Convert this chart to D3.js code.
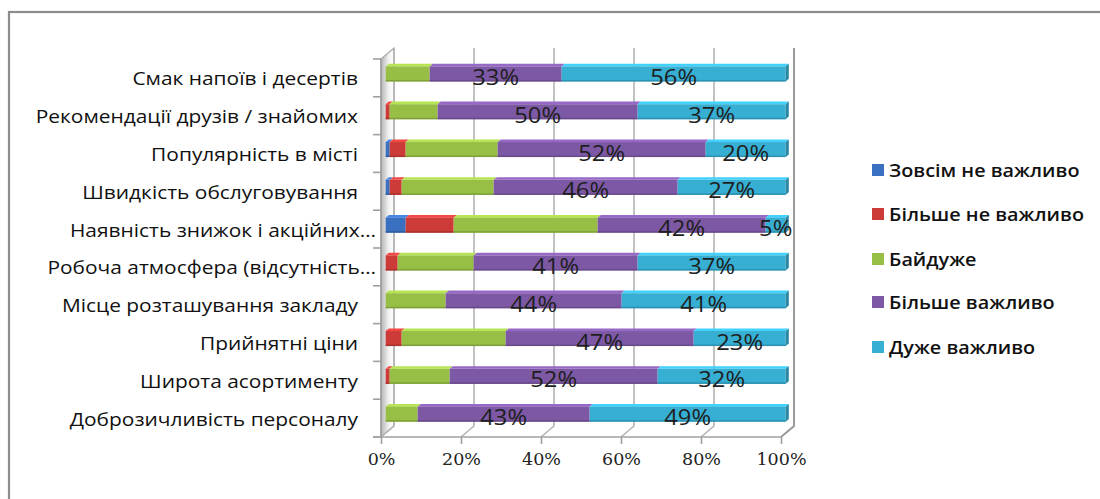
<!DOCTYPE html>
<html>
<head>
<meta charset="utf-8">
<script src="https://cdn.jsdelivr.net/npm/d3@7"></script>
<style>
  html, body { margin: 0; padding: 0; background: #fff; }
  svg { display: block; }
</style>
</head>
<body>
<svg id="chart" width="1100" height="499"></svg>
<script>
// Survey: importance of café selection factors (shares of respondents, %)
const categories = [
  "Смак напоїв і десертів",
  "Рекомендації друзів / знайомих",
  "Популярність в місті",
  "Швидкість обслуговування",
  "Наявність знижок і акційних…",
  "Робоча атмосфера (відсутність…",
  "Місце розташування закладу",
  "Прийнятні ціни",
  "Широта асортименту",
  "Доброзичливість персоналу"
];
const truncated = ["Наявність знижок і акційних…", "Робоча атмосфера (відсутність…"];

const seriesNames = ["Зовсім не важливо", "Більше не важливо", "Байдуже", "Більше важливо", "Дуже важливо"];
const notImportant     = [0, 0, 1, 1, 5, 0, 0, 0, 0, 0];
const ratherNot        = [0, 1, 4, 3, 12, 3, 0, 4, 1, 0];
const indifferent      = [11, 12, 23, 23, 36, 19, 15, 26, 15, 8];
const ratherImportant  = [33, 50, 52, 46, 42, 41, 44, 47, 52, 43];
const veryImportant    = [56, 37, 20, 27, 5, 37, 41, 23, 32, 49];
const seriesColors = ["#3a70c0", "#cc3b38", "#98bf45", "#7d58a5", "#36afd3"];
const labelledSeries = [3, 4];
const xTicks = [0, 20, 40, 60, 80, 100];

const seriesValues = [notImportant, ratherNot, indifferent, ratherImportant, veryImportant];

const svg = d3.select("#chart");

// widen a text element horizontally by a factor, keeping its anchor
function stretch(sel, k) {
  sel.each(function () {
    const w = this.getComputedTextLength();
    d3.select(this).attr("textLength", w * k).attr("lengthAdjust", "spacingAndGlyphs");
  });
}

// outer frame
svg.append("rect")
  .attr("x", 9).attr("y", 12).attr("width", 1100).attr("height", 500)
  .attr("fill", "none").attr("stroke", "#8c8c8c").attr("stroke-width", 2.2);

// scales on the front plane
const x = d3.scaleLinear().domain([0, 100]).range([381, 781]);
const y = d3.scaleBand().domain(categories).range([59, 437]).paddingInner(0).paddingOuter(0);

// depth projection for the 3D box
const DX = 13, DY = -11;
const floorY = y.range()[1];
const topY = 48;

const defs = svg.append("defs");
const wallGrad = defs.append("linearGradient").attr("id", "wallGrad")
  .attr("x1", "0").attr("x2", "1").attr("y1", "0").attr("y2", "0");
wallGrad.append("stop").attr("offset", "0").attr("stop-color", "#b5b5b5");
wallGrad.append("stop").attr("offset", "0.6").attr("stop-color", "#f2f2f2");
wallGrad.append("stop").attr("offset", "1").attr("stop-color", "#ffffff");

// left side wall
svg.append("path")
  .attr("d", d3.line()([
    [x(0), y.range()[0]], [x(0) + DX, topY], [x(0) + DX, floorY + DY], [x(0), floorY]
  ]) + "Z")
  .attr("fill", "url(#wallGrad)").attr("stroke", "#a8a8a8").attr("stroke-width", 1.2);

// gridlines: floor slant then back wall vertical
const grid = svg.append("g");
xTicks.forEach(t => {
  grid.append("path")
    .attr("d", d3.line()([[x(t), floorY], [x(t) + DX, floorY + DY], [x(t) + DX, topY]]))
    .attr("fill", "none")
    .attr("stroke", t === 100 ? "#9a9a9a" : "#b4b4b4")
    .attr("stroke-width", t === 100 ? 2 : 1.6);
});

// front axes
const axisColor = "#a0a0a0";
svg.append("line")
  .attr("x1", x(0)).attr("x2", x(0)).attr("y1", y.range()[0]).attr("y2", floorY)
  .attr("stroke", axisColor).attr("stroke-width", 1.6);
svg.append("line")
  .attr("x1", x(0) - 8).attr("x2", x(100)).attr("y1", floorY).attr("y2", floorY)
  .attr("stroke", axisColor).attr("stroke-width", 1.6);
const bounds = categories.map(c => y(c)).concat([floorY]);
bounds.forEach(b => {
  svg.append("line")
    .attr("x1", x(0) - 8).attr("x2", x(0)).attr("y1", b).attr("y2", b)
    .attr("stroke", axisColor).attr("stroke-width", 1.6);
});

// bottom axis (ticks and labels)
const xAxis = d3.axisBottom(x).tickValues(xTicks).tickFormat(d => d + "%").tickSize(7).tickPadding(9);
const xg = svg.append("g").attr("transform", `translate(0,${floorY})`).call(xAxis);
xg.select(".domain").remove();
xg.selectAll(".tick line").attr("stroke", axisColor).attr("stroke-width", 1.6);
xg.selectAll(".tick text")
  .attr("font-family", "DejaVu Serif").attr("font-size", 17.5).attr("fill", "#222");

// category labels
const catG = svg.append("g");
categories.forEach(c => {
  const isTrunc = truncated.includes(c);
  catG.append("text")
    .attr("x", isTrunc ? 376 : 358)
    .attr("y", y(c) + y.bandwidth() / 2)
    .attr("text-anchor", "end")
    .attr("dominant-baseline", "central")
    .attr("font-family", "Open Sans")
    .attr("font-size", 18.5)
    .attr("fill", "#111")
    .text(c);
});
stretch(catG.selectAll("text"), 1.13);

// stacked 3D bars
const barH = 15;
const d0 = 0.36, d1 = 0.6;
const stacked = categories.map((c, i) => {
  let acc = 0;
  return seriesValues.map((vals, s) => {
    const seg = { cat: c, series: s, x0: acc, x1: acc + vals[i], v: vals[i] };
    acc += vals[i];
    return seg;
  });
});

const barsG = svg.append("g");
stacked.forEach(row => {
  const c = row[0].cat;
  const yc = y(c) + y.bandwidth() / 2;
  const fy = yc + DY * d0 - barH / 2;        // front face top
  const ox = DX * d0;
  const bx = DX * (d1 - d0), by = DY * (d1 - d0);
  const visible = row.filter(s => s.v > 0);
  const last = visible[visible.length - 1];
  visible.forEach(s => {
    const col = d3.color(seriesColors[s.series]);
    const xa = x(s.x0) + ox, xb = x(s.x1) + ox;
    // top face
    barsG.append("path")
      .attr("d", d3.line()([[xa, fy], [xa + bx, fy + by], [xb + bx, fy + by], [xb, fy]]) + "Z")
      .attr("fill", col.brighter(0.5));
    // front face
    barsG.append("rect")
      .attr("x", xa).attr("y", fy).attr("width", xb - xa).attr("height", barH)
      .attr("fill", col.formatHex());
    barsG.append("rect")
      .attr("x", xa).attr("y", fy + barH - 1.5).attr("width", xb - xa).attr("height", 1.5)
      .attr("fill", col.darker(0.5));
    if (s === last) {
      barsG.append("path")
        .attr("d", d3.line()([[xb, fy], [xb + bx, fy + by], [xb + bx, fy + by + barH], [xb, fy + barH]]) + "Z")
        .attr("fill", col.darker(0.7));
    }
  });
});

// value labels for the two labelled series
const labG = svg.append("g");
stacked.forEach(row => {
  const c = row[0].cat;
  const yc = y(c) + y.bandwidth() / 2;
  row.filter(s => labelledSeries.includes(s.series) && s.v > 0).forEach(s => {
    labG.append("text")
      .attr("x", x((s.x0 + s.x1) / 2) + DX * d0)
      .attr("y", yc + DY * d0 + 2)
      .attr("text-anchor", "middle")
      .attr("dominant-baseline", "central")
      .attr("font-family", "Open Sans")
      .attr("font-size", 22)
      .attr("fill", "#1e1e1e")
      .text(s.v + "%");
  });
});
stretch(labG.selectAll("text"), 1.08);

// legend
const legendY = [170, 214, 259, 302, 347];
const lg = svg.append("g");
seriesNames.forEach((n, i) => {
  lg.append("rect")
    .attr("x", 872).attr("y", legendY[i] - 6).attr("width", 12).attr("height", 12)
    .attr("fill", seriesColors[i]);
  lg.append("text")
    .attr("x", 889).attr("y", legendY[i])
    .attr("dominant-baseline", "central")
    .attr("font-family", "Open Sans")
    .attr("font-size", 18)
    .attr("font-weight", 600)
    .attr("fill", "#111")
    .attr("class", "legend-label")
    .text(n);
});
stretch(lg.selectAll("text"), 1.1);
</script>
</body>
</html>
